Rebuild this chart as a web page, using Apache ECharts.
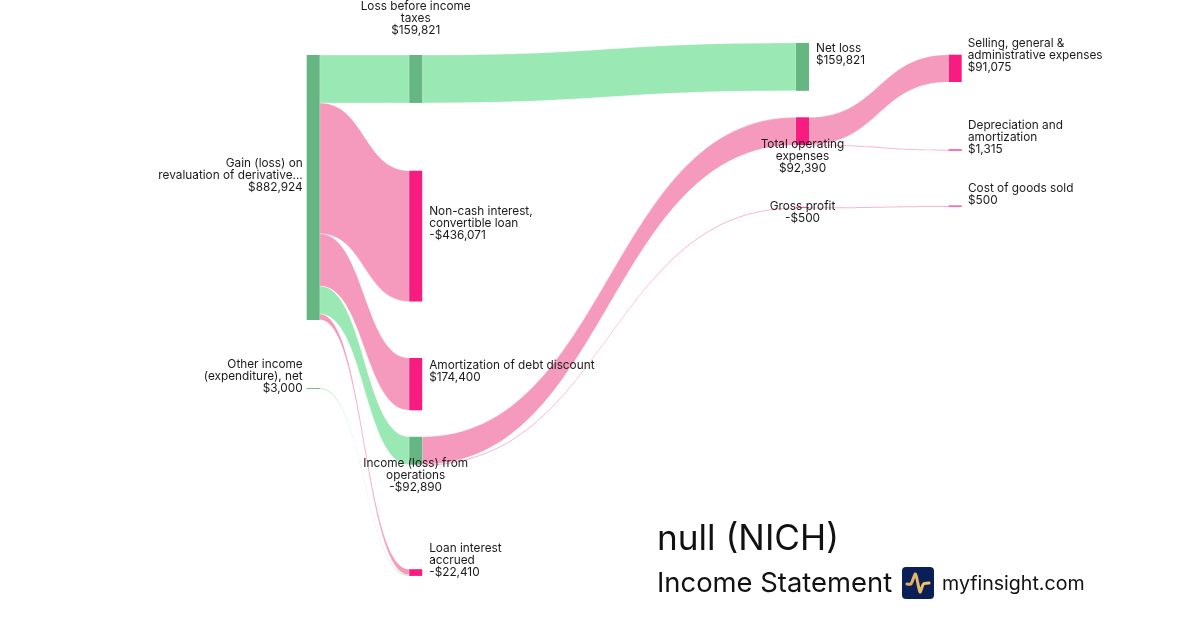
<!DOCTYPE html>
<html>
<head>
<meta charset="utf-8">
<title>null (NICH) Income Statement</title>
<script src="https://cdn.jsdelivr.net/npm/echarts@6/dist/echarts.min.js"></script>
<style>
  html, body { margin: 0; padding: 0; background: #fff; }
  #chart { width: 1200px; height: 630px; }
</style>
</head>
<body>
<div id="chart"></div>
<script>
// data
const nodeNames = [
  'Gain', 'OtherIncome',
  'LossBeforeTax', 'NonCash', 'Amortization', 'IncomeOps', 'LoanInterest',
  'NetLoss', 'TotalOpex', 'GrossProfit',
  'SGA', 'Depreciation', 'COGS'
];
const nodeLabels = [
  'Gain (loss) on\nrevaluation of derivative...\n$882,924',
  'Other income\n(expenditure), net\n$3,000',
  'Loss before income\ntaxes\n$159,821',
  'Non-cash interest,\nconvertible loan\n-$436,071',
  'Amortization of debt discount\n$174,400',
  'Income (loss) from\noperations\n-$92,890',
  'Loan interest\naccrued\n-$22,410',
  'Net loss\n$159,821',
  'Total operating\nexpenses\n$92,390',
  'Gross profit\n-$500',
  'Selling, general &\nadministrative expenses\n$91,075',
  'Depreciation and\namortization\n$1,315',
  'Cost of goods sold\n$500'
];
const nodeValues = [882924, 3000, 159821, 436071, 174400, 92890, 22410, 159821, 92390, 500, 91075, 1315, 500];
const nodeIsGain = [true, true, true, false, false, true, false, true, false, false, false, false, false];

const linkSources = ['Gain', 'Gain', 'Gain', 'Gain', 'Gain', 'OtherIncome', 'LossBeforeTax', 'IncomeOps', 'IncomeOps', 'TotalOpex', 'TotalOpex', 'GrossProfit'];
const linkTargets = ['LossBeforeTax', 'NonCash', 'Amortization', 'IncomeOps', 'LoanInterest', 'LoanInterest', 'NetLoss', 'TotalOpex', 'GrossProfit', 'SGA', 'Depreciation', 'COGS'];
const linkValues = [159821, 436071, 174400, 92890, 19410, 3000, 159821, 92390, 500, 91075, 1315, 500];
const linkIsGain = [true, false, false, true, false, true, true, false, false, false, false, false];

// hand placement of the sankey columns and rows, the original is not evenly laid out
const nodeLeft = [306.7, 306.7, 409.2, 409.2, 409.2, 409.2, 409.2, 796, 796, 796, 948.7, 948.7, 948.7];
const nodeTop = [55, 388, 55, 170.7, 358, 436.8, 569.2, 42.9, 117.3, 207.4, 54.7, 149.8, 206];
const labelSide = ['left', 'left', 'inside', 'right', 'right', 'inside', 'right', 'right', 'inside', 'inside', 'right', 'right', 'right'];
const labelGap = [4, 4, 0, 7, 7, 0, 7, 7, 0, 0, 6, 6, 6];
const labelShift = [-12.5, -12, -61, -12.5, -12.5, 25, -12.5, -12, 25, 5, -13, -13, -12];
// nodes too thin to show on their own get a hairline
const nodeHairline = [0, 0, 0, 0, 0, 0, 0, 0, 0, 0.5, 0, 0.6, 0.6];

const GREEN_NODE = '#66b683';
const GREEN_LINK = '#9ae8b4';
const PINK_NODE = '#f81b80';
const PINK_LINK = '#f59abc';
const CHART_W = 1200;
const CHART_H = 265.8; // makes the value to pixel scale come out like the original

const nodes = nodeNames.map((name, i) => {
  const color = nodeIsGain[i] ? GREEN_NODE : PINK_NODE;
  return {
    name: name,
    value: nodeValues[i],
    localX: nodeLeft[i] / CHART_W,
    localY: nodeTop[i] / CHART_H,
    itemStyle: { color: color, borderColor: color, borderWidth: nodeHairline[i] },
    label: {
      position: labelSide[i],
      distance: labelGap[i],
      offset: [0, labelShift[i]],
      formatter: nodeLabels[i]
    }
  };
});

const links = linkSources.map((source, i) => ({
  source: source,
  target: linkTargets[i],
  value: linkValues[i],
  lineStyle: { color: linkIsGain[i] ? GREEN_LINK : PINK_LINK }
}));

const myChart = echarts.init(document.getElementById('chart'), null, { renderer: 'canvas' });
myChart.setOption({
  animation: false,
  backgroundColor: '#fff',
  textStyle: { fontFamily: 'Inter' },
  title: [
    {
      text: 'null (NICH)',
      left: 657,
      top: 522,
      padding: 0,
      textStyle: { fontFamily: 'Inter', fontSize: 35.2, fontWeight: 'normal', color: '#111' }
    },
    {
      text: 'Income Statement',
      left: 657,
      top: 570,
      padding: 0,
      textStyle: { fontFamily: 'Inter', fontSize: 27.4, fontWeight: 'normal', color: '#111' }
    },
    {
      text: 'myfinsight.com',
      left: 942,
      top: 574,
      padding: 0,
      textStyle: { fontFamily: 'Inter', fontSize: 19.6, fontWeight: 'normal', color: '#111' }
    }
  ],
  graphic: [
    {
      type: 'rect',
      shape: { x: 902, y: 567, width: 32, height: 32, r: 4 },
      style: { fill: '#0a1f56' }
    },
    {
      type: 'polyline',
      shape: {
        points: [[907, 584], [911, 584], [915.5, 574], [920, 592], [923.5, 584], [929, 583]],
        smooth: 0.25
      },
      style: {
        fill: null,
        lineWidth: 3,
        lineCap: 'round',
        lineJoin: 'round',
        stroke: new echarts.graphic.LinearGradient(0, 0, 1, 0, [
          { offset: 0, color: '#d9a86c' },
          { offset: 1, color: '#f5c964' }
        ])
      }
    }
  ],
  series: [
    {
      type: 'sankey',
      left: 0,
      top: 0,
      width: CHART_W,
      height: CHART_H,
      nodeWidth: 13,
      nodeGap: 0,
      nodeAlign: 'left',
      layoutIterations: 0,
      draggable: false,
      emphasis: { disabled: true },
      lineStyle: {
        curveness: 0.5,
        opacity: 1,
        borderColor: 'rgba(255,255,255,0.3)',
        borderWidth: 1
      },
      label: {
        show: true,
        fontFamily: 'Inter',
        fontSize: 11.8,
        lineHeight: 12,
        color: '#1a1a1a'
      },
      data: nodes,
      links: links
    }
  ]
});
</script>
</body>
</html>
